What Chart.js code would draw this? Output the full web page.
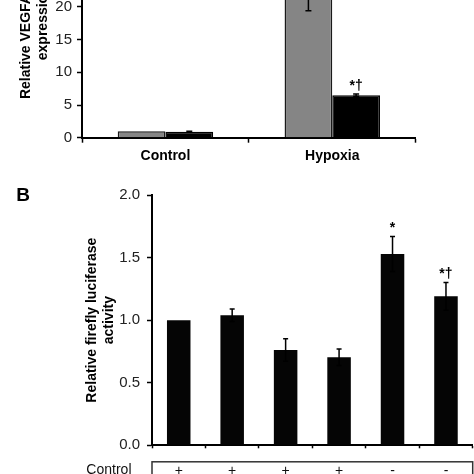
<!DOCTYPE html>
<html><head><meta charset="utf-8">
<script src="https://cdn.jsdelivr.net/npm/chart.js@4/dist/chart.umd.min.js"></script>
<style>
html,body{margin:0;padding:0;background:#fff;overflow:hidden;width:474px;height:474px;}
#wrap{position:relative;width:474px;height:474px;overflow:hidden;background:#fff;}
#ca{position:absolute;left:0;top:-120px;}
#cb{position:absolute;left:0;top:170px;}
</style></head><body>
<div id="wrap"><canvas id="ca" width="474" height="300"></canvas><canvas id="cb" width="474" height="330"></canvas></div>
<script>
// ---------- Panel A data ----------
const groupsA = ['Control', 'Hypoxia'];
const grayA = [1.0, 23.5];
const grayErrA = [0.0, 4.1];
const blackA = [0.92, 6.5];
const blackErrA = [0.06, 0.18];
const sigGrayA = ['', ''];
const sigBlackA = ['', '*\u2020'];
const yMaxA = 35, yStepA = 5;
const yTitleA = ['Relative VEGFA mRNA', 'expression'];

// ---------- Panel B data ----------
const conditionsB = ['1', '2', '3', '4', '5', '6'];
const valuesB = [1.0, 1.04, 0.762, 0.704, 1.528, 1.19];
const errB = [0.0, 0.05, 0.09, 0.066, 0.14, 0.11];
const sigB = ['', '', '', '', '*', '*\u2020'];
const controlRowB = ['+', '+', '+', '+', '-', '-'];
const yMaxB = 2.0, yStepB = 0.5;
const yTitleB = ['Relative firefly luciferase', 'activity'];
const panelLabelB = 'B';
const rowLabelB = 'Control';

const FONT = "'Liberation Sans', Arial, sans-serif";

function drawErrors(chart, dsIndex, errs, sigs, capW, sigGap) {
  const ctx = chart.ctx, ys = chart.scales.y;
  const meta = chart.getDatasetMeta(dsIndex);
  const vals = chart.data.datasets[dsIndex].data;
  ctx.save();
  ctx.strokeStyle = '#000';
  ctx.lineWidth = 1.5;
  meta.data.forEach((bar, i) => {
    const e = errs[i];
    let top = ys.getPixelForValue(vals[i]);
    if (e) {
      const yt = ys.getPixelForValue(vals[i] + e);
      const yb = ys.getPixelForValue(vals[i] - e);
      ctx.beginPath();
      ctx.moveTo(bar.x, yb); ctx.lineTo(bar.x, yt);
      ctx.moveTo(bar.x - capW, yt); ctx.lineTo(bar.x + capW, yt);
      ctx.moveTo(bar.x - capW, yb); ctx.lineTo(bar.x + capW, yb);
      ctx.stroke();
      top = yt;
    }
    if (sigs && sigs[i]) {
      ctx.fillStyle = '#000';
      ctx.font = 'bold 14px ' + FONT;
      ctx.textAlign = 'center';
      ctx.textBaseline = 'alphabetic';
      ctx.fillText(sigs[i], bar.x, top - sigGap);
    }
  });
  ctx.restore();
}

const pluginA = {
  id: 'errA',
  afterDatasetsDraw(chart) {
    drawErrors(chart, 0, grayErrA, sigGrayA, 3, 4);
    drawErrors(chart, 1, blackErrA, sigBlackA, 3, 4);
  }
};

const pluginB = {
  id: 'errB',
  afterDatasetsDraw(chart) {
    drawErrors(chart, 0, errB, sigB, 2.5, 5);
    const ctx = chart.ctx, xs = chart.scales.x, area = chart.chartArea;
    ctx.save();
    // table box
    ctx.strokeStyle = '#333';
    ctx.lineWidth = 1.5;
    const boxTop = area.bottom + 16.5;
    ctx.strokeRect(xs.left, boxTop, xs.right - xs.left, 80);
    ctx.fillStyle = '#111';
    ctx.font = '14px ' + FONT;
    ctx.textBaseline = 'middle';
    ctx.textAlign = 'right';
    ctx.fillText(rowLabelB, 131.5, boxTop + 8);
    ctx.textAlign = 'center';
    controlRowB.forEach((s, i) => {
      ctx.fillText(s, xs.getPixelForValue(i), boxTop + 9);
    });
    // panel label
    ctx.font = 'bold 19px ' + FONT;
    ctx.fillStyle = '#000';
    ctx.textAlign = 'center';
    ctx.fillText(panelLabelB, 23, 26);
    ctx.restore();
  }
};

const yTickFont = {family: FONT, size: 15};

new Chart(document.getElementById('ca'), {
  type: 'bar',
  data: {
    labels: groupsA,
    datasets: [
      {data: grayA, backgroundColor: '#858585', borderColor: '#1a1a1a', borderWidth: 1.5},
      {data: blackA, backgroundColor: '#000', borderColor: '#000', borderWidth: 1.5}
    ]
  },
  options: {
    responsive: false, animation: false,
    layout: {padding: {top: 28.8, left: 0, right: 58.3, bottom: 0}},
    plugins: {legend: {display: false}, tooltip: {enabled: false}},
    datasets: {bar: {categoryPercentage: 0.572, barPercentage: 1.0}},
    scales: {
      x: {
        afterFit: s => { s.height = 42.3; },
        grid: {offset: true, drawOnChartArea: false, drawTicks: true, tickLength: 5, tickWidth: 1.5, tickColor: '#000'},
        border: {display: true, color: '#000', width: 2},
        ticks: {color: '#000', font: {family: FONT, size: 14, weight: 'bold'}, padding: 5}
      },
      y: {
        min: 0, max: yMaxA,
        afterFit: s => { s.width = 82; },
        grid: {drawOnChartArea: false, drawTicks: true, tickLength: 5, tickWidth: 1.5, tickColor: '#000'},
        border: {display: true, color: '#000', width: 2},
        ticks: {stepSize: yStepA, color: '#222', font: yTickFont, padding: 5},
        title: {display: true, text: yTitleA, color: '#000', font: {family: FONT, size: 14, weight: 'bold', lineHeight: 1.25}, padding: {top: 17.25, bottom: 0}}
      }
    }
  },
  plugins: [pluginA]
});

new Chart(document.getElementById('cb'), {
  type: 'bar',
  data: {
    labels: conditionsB,
    datasets: [
      {data: valuesB, backgroundColor: '#050505', borderColor: '#050505', borderWidth: 0}
    ]
  },
  options: {
    responsive: false, animation: false,
    layout: {padding: {top: 25, left: 0, right: 1.3, bottom: 0}},
    plugins: {legend: {display: false}, tooltip: {enabled: false}},
    datasets: {bar: {categoryPercentage: 1.0, barPercentage: 0.44}},
    scales: {
      x: {
        afterFit: s => { s.height = 54.7; },
        grid: {offset: true, drawOnChartArea: false, drawTicks: true, tickLength: 3, tickWidth: 1.5, tickColor: '#000'},
        border: {display: true, color: '#000', width: 2},
        ticks: {display: false}
      },
      y: {
        min: 0, max: yMaxB,
        afterFit: s => { s.width = 152; },
        grid: {drawOnChartArea: false, drawTicks: true, tickLength: 5, tickWidth: 1.5, tickColor: '#000'},
        border: {display: true, color: '#000', width: 2},
        ticks: {stepSize: yStepB, color: '#222', font: yTickFont, padding: 7, callback: v => Number(v).toFixed(1)},
        title: {display: true, text: yTitleB, color: '#000', font: {family: FONT, size: 14, weight: 'bold', lineHeight: 1.2}, padding: {top: 84, bottom: 0}}
      }
    }
  },
  plugins: [pluginB]
});
</script>
</body></html>
